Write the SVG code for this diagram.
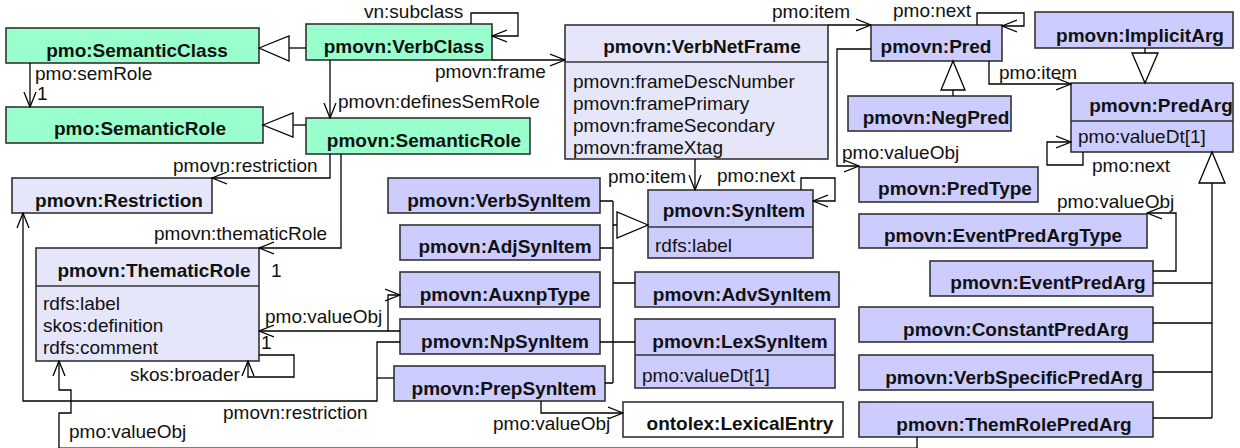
<svg xmlns="http://www.w3.org/2000/svg" width="1240" height="448" viewBox="0 0 1240 448">
  <style>
    .box { stroke: #333; stroke-width: 1.6; }
    .g { fill: #99FFCC; }
    .l { fill: #E6E6FA; }
    .p { fill: #CCCCFF; }
    .w { fill: #FFFFFF; }
    .div { stroke: #333; stroke-width: 1.6; }
    .t { font-family: "Liberation Sans", Arial, sans-serif; font-size: 19px; font-weight: bold; fill: #111; text-anchor: middle; }
    .a { font-family: "Liberation Sans", Arial, sans-serif; font-size: 19px; fill: #111; }
    .c { fill: none; stroke: #000; stroke-width: 1.3; }
    .ca { fill: none; stroke: #000; stroke-width: 1.3; marker-end: url(#arr); }
    .tri { fill: #fff; stroke: #000; stroke-width: 1.3; }
  </style>
  <defs>
    <marker id="arr" viewBox="0 0 16 14" refX="15" refY="7" markerWidth="16" markerHeight="14" markerUnits="userSpaceOnUse" orient="auto">
      <path d="M0,1 L15,7 L0,13" fill="none" stroke="#000" stroke-width="1.3"/>
    </marker>
  </defs>
  <rect width="1240" height="448" fill="#fff"/>

  <!-- classes -->
  <g id="SemanticClass"><rect class="box g" x="6" y="28" width="253" height="35"/><text class="t" x="137" y="57">pmo:SemanticClass</text></g>
  <g id="SemanticRole"><rect class="box g" x="6" y="107" width="257" height="36"/><text class="t" x="140" y="135">pmo:SemanticRole</text></g>
  <g id="VerbClass"><rect class="box g" x="306" y="24" width="186" height="36"/><text class="t" x="404" y="53">pmovn:VerbClass</text></g>
  <g id="VnSemanticRole"><rect class="box g" x="306" y="118" width="224" height="36"/><text class="t" x="424" y="147">pmovn:SemanticRole</text></g>

  <g id="VerbNetFrame">
    <rect class="box l" x="565" y="25" width="263" height="134"/>
    <line class="div" x1="565" y1="62" x2="828" y2="62"/>
    <text class="t" x="702" y="53">pmovn:VerbNetFrame</text>
    <text class="a" x="573" y="88">pmovn:frameDescNumber</text>
    <text class="a" x="573" y="110">pmovn:framePrimary</text>
    <text class="a" x="573" y="132">pmovn:frameSecondary</text>
    <text class="a" x="573" y="154">pmovn:frameXtag</text>
  </g>

  <g id="Pred"><rect class="box p" x="871" y="25" width="131" height="36"/><text class="t" x="936" y="53">pmovn:Pred</text></g>
  <g id="ImplicitArg"><rect class="box p" x="1035" y="12" width="198" height="36"/><text class="t" x="1140" y="42">pmovn:ImplicitArg</text></g>
  <g id="PredArg">
    <rect class="box p" x="1071" y="83" width="162" height="69"/>
    <line class="div" x1="1071" y1="121" x2="1233" y2="121"/>
    <text class="t" x="1161" y="112">pmovn:PredArg</text>
    <text class="a" x="1078" y="143">pmo:valueDt[1]</text>
  </g>
  <g id="NegPred"><rect class="box p" x="848" y="96" width="163" height="35"/><text class="t" x="936" y="124">pmovn:NegPred</text></g>
  <g id="PredType"><rect class="box p" x="859" y="167" width="179" height="35"/><text class="t" x="955" y="195">pmovn:PredType</text></g>
  <g id="EventPredArgType"><rect class="box p" x="859" y="214" width="288" height="34"/><text class="t" x="1003" y="242">pmovn:EventPredArgType</text></g>
  <g id="EventPredArg"><rect class="box p" x="930" y="261" width="223" height="35"/><text class="t" x="1048" y="289">pmovn:EventPredArg</text></g>
  <g id="ConstantPredArg"><rect class="box p" x="859" y="307" width="294" height="35"/><text class="t" x="1016" y="336">pmovn:ConstantPredArg</text></g>
  <g id="VerbSpecificPredArg"><rect class="box p" x="859" y="355" width="294" height="35"/><text class="t" x="1014" y="384">pmovn:VerbSpecificPredArg</text></g>
  <g id="ThemRolePredArg"><rect class="box p" x="859" y="402" width="294" height="35"/><text class="t" x="1014" y="431">pmovn:ThemRolePredArg</text></g>

  <g id="Restriction"><rect class="box l" x="12" y="178" width="200" height="35"/><text class="t" x="119" y="207">pmovn:Restriction</text></g>
  <g id="ThematicRole">
    <rect class="box l" x="36" y="248" width="223" height="113"/>
    <line class="div" x1="36" y1="286" x2="259" y2="286"/>
    <text class="t" x="154" y="277">pmovn:ThematicRole</text>
    <text class="a" x="43" y="310">rdfs:label</text>
    <text class="a" x="43" y="332">skos:definition</text>
    <text class="a" x="43" y="354">rdfs:comment</text>
  </g>

  <g id="SynItem">
    <rect class="box p" x="648" y="190" width="165" height="68"/>
    <line class="div" x1="648" y1="227" x2="813" y2="227"/>
    <text class="t" x="734" y="217">pmovn:SynItem</text>
    <text class="a" x="655" y="252">rdfs:label</text>
  </g>
  <g id="VerbSynItem"><rect class="box p" x="388" y="178" width="212" height="35"/><text class="t" x="499" y="207">pmovn:VerbSynItem</text></g>
  <g id="AdjSynItem"><rect class="box p" x="400" y="225" width="200" height="35"/><text class="t" x="505" y="253">pmovn:AdjSynItem</text></g>
  <g id="AuxnpType"><rect class="box p" x="400" y="272" width="200" height="35"/><text class="t" x="505" y="301">pmovn:AuxnpType</text></g>
  <g id="NpSynItem"><rect class="box p" x="400" y="319" width="200" height="35"/><text class="t" x="505" y="348">pmovn:NpSynItem</text></g>
  <g id="PrepSynItem"><rect class="box p" x="394" y="366" width="211" height="35"/><text class="t" x="504" y="395">pmovn:PrepSynItem</text></g>
  <g id="AdvSynItem"><rect class="box p" x="635" y="272" width="204" height="35"/><text class="t" x="742" y="301">pmovn:AdvSynItem</text></g>
  <g id="LexSynItem">
    <rect class="box p" x="635" y="319" width="200" height="69"/>
    <line class="div" x1="635" y1="355" x2="835" y2="355"/>
    <text class="t" x="740" y="348">pmovn:LexSynItem</text>
    <text class="a" x="642" y="382">pmo:valueDt[1]</text>
  </g>
  <g id="LexicalEntry"><rect class="box w" x="623" y="402" width="220" height="35"/><text class="t" x="740" y="430">ontolex:LexicalEntry</text></g>

  <!-- connectors -->
  <g id="connectors">
    <!-- generalizations -->
    <path class="c" d="M289,48 H306"/><polygon class="tri" points="259,48 289,36 289,61"/>
    <path class="c" d="M293,125 H306"/><polygon class="tri" points="263,125 293,113 293,137"/>
    <path class="c" d="M953,90 V96"/><polygon class="tri" points="953,61 941,90 965,90"/>
    <path class="c" d="M1145,48 V53"/><polygon class="tri" points="1145,83 1132,53 1158,53"/>
    <path class="c" d="M613,201 V383 M600,201 H613 M600,248 H613 M613,225 H617 M613,283 H635 M600,342 H635 M605,383 H613"/>
    <polygon class="tri" points="648,225 617,212 617,238"/>
    <path class="c" d="M1212,183 V418 M1153,283 H1212 M1153,323 H1212 M1153,372 H1212 M1153,418 H1212"/>
    <polygon class="tri" points="1212,152 1199,183 1225,183"/>

    <!-- associations -->
    <path class="ca" d="M30,63 V107"/>
    <text class="a" x="35" y="80">pmo:semRole</text>
    <text class="a" x="37" y="100">1</text>

    <path class="ca" d="M471,24 V13 H518 V36 H492"/>
    <text class="a" x="364" y="18">vn:subclass</text>

    <path class="ca" d="M492,60 H565"/>
    <text class="a" x="435" y="78">pmovn:frame</text>

    <path class="ca" d="M330,60 V118"/>
    <text class="a" x="338" y="108">pmovn:definesSemRole</text>

    <path class="ca" d="M330,154 V178 H212"/>
    <text class="a" x="173" y="172">pmovn:restriction</text>

    <path class="ca" d="M341,154 V248 H259"/>
    <text class="a" x="154" y="240">pmovn:thematicRole</text>
    <text class="a" x="271" y="277">1</text>

    <path class="ca" d="M828,25 H871"/>
    <text class="a" x="772" y="18">pmo:item</text>

    <path class="ca" d="M977,25 V13 H1024 V26 H1002"/>
    <text class="a" x="893" y="17">pmo:next</text>

    <path class="ca" d="M989,61 V84 H1071"/>
    <text class="a" x="999" y="79">pmo:item</text>

    <path class="ca" d="M1083,152 V165 H1047 V142 H1071"/>
    <text class="a" x="1092" y="172">pmo:next</text>

    <path class="ca" d="M871,49 H837 V166 H859"/>
    <text class="a" x="842" y="159">pmo:valueObj</text>

    <path class="ca" d="M695,159 V190"/>
    <text class="a" x="608" y="183">pmo:item</text>

    <path class="ca" d="M801,190 V178 H835 V201 H813"/>
    <text class="a" x="717" y="182">pmo:next</text>

    <path class="ca" d="M400,331 H259"/>
    <path class="ca" d="M388,331 V295 H400"/>
    <text class="a" x="265" y="323">pmo:valueObj</text>
    <text class="a" x="261" y="349">1</text>

    <path class="ca" d="M400,342 H377 V401 H23 V213"/>
    <path class="c" d="M394,378 H377"/>
    <text class="a" x="223" y="419">pmovn:restriction</text>

    <path class="ca" d="M259,355 H294 V377 H248 V361"/>
    <text class="a" x="130" y="381">skos:broader</text>

    <path class="ca" d="M917,437 V448.2 H59 V413 H71 V390 H59 V361"/>
    <text class="a" x="69" y="438">pmo:valueObj</text>

    <path class="ca" d="M541,401 V413 H623"/>
    <text class="a" x="493" y="430">pmo:valueObj</text>

    <path class="ca" d="M1153,271 H1176 V213 H1147"/>
    <text class="a" x="1057" y="208">pmo:valueObj</text>
  </g>
</svg>
